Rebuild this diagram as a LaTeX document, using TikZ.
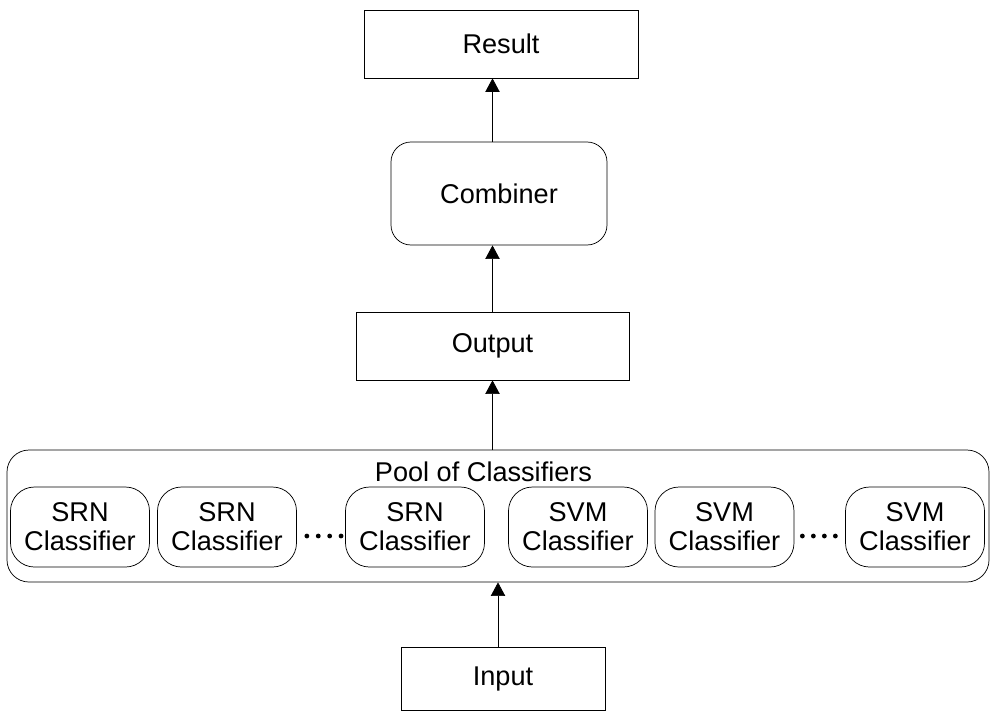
\documentclass[tikz,border=0pt]{standalone}
\usepackage{fontspec}
\setmainfont{Liberation Sans}
\usetikzlibrary{arrows.meta,calc}

\tikzset{
  plainbox/.style={draw, line width=0.018cm, inner sep=0pt, align=center},
  roundbox/.style={plainbox, rounded corners=0.5cm},
  classbox/.style={plainbox, rounded corners=0.6cm, minimum width=3.475cm, minimum height=2.0cm},
  arrowline/.style={line width=0.018cm, -{Triangle[length=0.34cm,width=0.36cm]}},
}

\begin{document}
\begin{tikzpicture}
        \useasboundingbox (0.000000,0.000000) rectangle (24.800000,-17.825000);
        {\fontsize{19.3}{20.6}\selectfont

        % Boxes of the upper column
        \node [plainbox, minimum width=6.850000cm, minimum height=1.700000cm] (result) at (12.525000,-1.100000) {Result};%
        \node [roundbox, minimum width=5.400000cm, minimum height=2.575000cm] (combiner) at (12.475000,-4.837500) {Combiner};%
        \node [plainbox, minimum width=6.825000cm, minimum height=1.700000cm] (output) at (12.312500,-8.650000) {Output};%

        % Pool of classifiers
        \node [plainbox, rounded corners=0.55cm, minimum width=24.550000cm, minimum height=3.300000cm] (pool) at (12.450000,-12.900000) {};%
        \node [anchor=base] (poollabel) at (12.087500,-12.025000) {Pool of Classifiers};%

        % Classifiers inside the pool
        \node [classbox] (srna) at (2.000000,-13.175000) {SRN\\Classifier};%
        \node [classbox] (srnb) at (5.675000,-13.175000) {SRN\\Classifier};%
        \node [classbox] (srnc) at (10.375000,-13.175000) {SRN\\Classifier};%
        \node [classbox] (svma) at (14.450000,-13.175000) {SVM\\Classifier};%
        \node [classbox] (svmb) at (18.112500,-13.175000) {SVM\\Classifier};%
        \node [classbox] (svmc) at (22.875000,-13.175000) {SVM\\Classifier};%

        % Dots between the classifiers
        \foreach \k in {0,...,3} {
          \fill ($(srnb.east)+(0.250000+0.285000*\k,-0.225000)$) circle (0.060000);%
          \fill ($(svmb.east)+(0.200000+0.275000*\k,-0.225000)$) circle (0.060000);%
        }

        % Input box
        \node [plainbox, minimum width=5.100000cm, minimum height=1.575000cm] (input) at (12.575000,-16.962500) {Input};%

        % Drawing arrows
        \draw [arrowline] (input.north -| pool.south) -- (pool.south);%
        \draw [arrowline] (output.south |- pool.north) -- (output.south);%
        \draw [arrowline] (output.north) -- (output.north |- combiner.south);%
        \draw [arrowline] (output.north |- combiner.north) -- (output.north |- result.south);%
        }
\end{tikzpicture}
\end{document}
